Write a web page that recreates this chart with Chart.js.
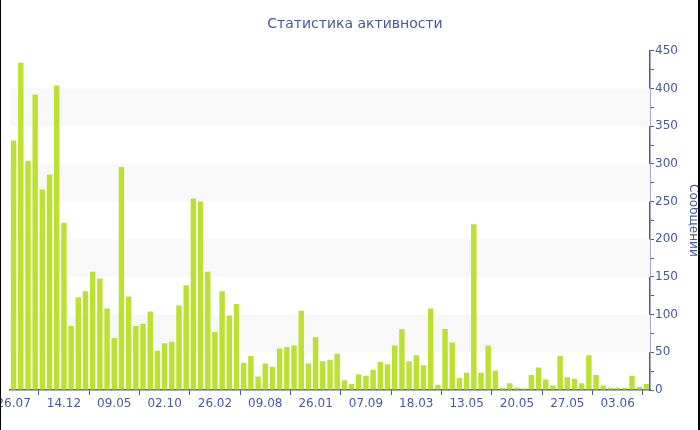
<!DOCTYPE html>
<html>
<head>
<meta charset="utf-8">
<script src="https://cdn.jsdelivr.net/npm/chart.js@4/dist/chart.umd.min.js"></script>
<style>
  html, body { margin: 0; padding: 0; background: #fff; }
  #wrap { width: 700px; height: 430px; }
</style>
</head>
<body>
<div id="wrap"><canvas id="activityChart" width="700" height="430"></canvas></div>
<script>
// ---------- data ----------
const tickLabels = ["26.07", "14.12", "09.05", "02.10", "26.02", "09.08", "26.01",
                    "07.09", "18.03", "13.05", "20.05", "27.05", "03.06"];
const labelEvery = 7; // one date label every 7 bars

const messages = [
  331, 434, 304, 392, 266, 286, 404, 222, 85, 123,
  131, 157, 148, 108, 69, 296, 124, 85, 88, 104,
  52, 62, 64, 112, 139, 254, 250, 157, 77, 131,
  99, 114, 36, 45, 18, 35, 31, 55, 57, 59,
  105, 35, 70, 38, 40, 48, 13, 8, 21, 19,
  27, 37, 34, 59, 81, 38, 46, 33, 108, 7,
  81, 63, 16, 23, 220, 23, 59, 26, 3, 9,
  3, 2, 20, 30, 14, 6, 45, 17, 15, 9,
  46, 20, 6, 3, 3, 3, 19, 4, 8
];

const yTicks = [0, 50, 100, 150, 200, 250, 300, 350, 400, 450];

// categories: the labelled dates at every 7th bar, blank in between
const categories = messages.map((_, i) => (i % labelEvery === 0 ? tickLabels[i / labelEvery] || "" : ""));

const AXIS_BLUE = "#46599f";
const FONT = "'DejaVu Sans', Verdana, sans-serif";

// light horizontal bands between every other pair of gridlines
const bandsPlugin = {
  id: "bands",
  beforeDatasetsDraw(chart) {
    const { ctx, chartArea, scales } = chart;
    const y = scales.y;
    ctx.save();
    ctx.fillStyle = "#f8f8f8";
    for (let k = 1; k < yTicks.length - 1; k += 2) {
      const top = y.getPixelForValue(yTicks[k + 1]);
      const bot = y.getPixelForValue(yTicks[k]);
      ctx.fillRect(chartArea.left, top, chartArea.right - chartArea.left, bot - top);
    }
    ctx.restore();
  },
};

// thin dark frame on the left/right edges as in the screenshot
const edgePlugin = {
  id: "edges",
  afterDraw(chart) {
    const { ctx, width, height } = chart;
    ctx.save();
    ctx.fillStyle = "#000";
    ctx.fillRect(0, 0, 1, height);
    ctx.fillRect(width - 2, 0, 2, height);
    ctx.restore();
  },
};

new Chart(document.getElementById("activityChart"), {
  type: "bar",
  data: {
    labels: categories,
    datasets: [{
      label: "Сообщений",
      data: messages,
      backgroundColor: "#bde130",
      categoryPercentage: 1,
      barPercentage: 0.76,
    }],
  },
  options: {
    responsive: false,
    animation: false,
    devicePixelRatio: 1,
    layout: { padding: { left: 10, right: 0, top: 0, bottom: 0 } },
    plugins: {
      legend: { display: false },
      tooltip: { enabled: false },
      title: {
        display: true,
        text: "Статистика активности",
        color: AXIS_BLUE,
        font: { family: FONT, size: 14, weight: "normal" },
        padding: { top: 16, bottom: 18 },
      },
    },
    scales: {
      x: {
        offset: true,
        grid: { display: true, drawOnChartArea: false, color: AXIS_BLUE, tickLength: 5 },
        border: { color: AXIS_BLUE, width: 1.5 },
        ticks: {
          autoSkip: false, maxRotation: 0, padding: 2,
          color: AXIS_BLUE, font: { family: FONT, size: 12 },
        },
        afterBuildTicks: (scale) => {
          scale.ticks = scale.ticks.filter((t) => t.value % labelEvery === 0);
        },
        afterFit: (scale) => {
          scale.height = 40;
          scale.paddingLeft = 0;
          scale.paddingRight = 0;
        },
      },
      y: {
        position: "right",
        min: yTicks[0],
        max: yTicks[yTicks.length - 1],
        grid: { display: true, drawOnChartArea: false, color: AXIS_BLUE, tickLength: 4 },
        border: { color: AXIS_BLUE, width: 1.5 },
        ticks: {
          stepSize: 25, padding: 1,
          color: AXIS_BLUE, font: { family: FONT, size: 12 },
          callback: (v) => (v % 50 === 0 ? v : ""),
        },
        title: {
          display: true, text: "Сообщений", color: AXIS_BLUE,
          font: { family: FONT, size: 12 }, padding: { top: 0, bottom: 4 },
        },
        afterFit: (scale) => { scale.width = 50; },
      },
    },
  },
  plugins: [bandsPlugin, edgePlugin],
});
</script>
</body>
</html>
